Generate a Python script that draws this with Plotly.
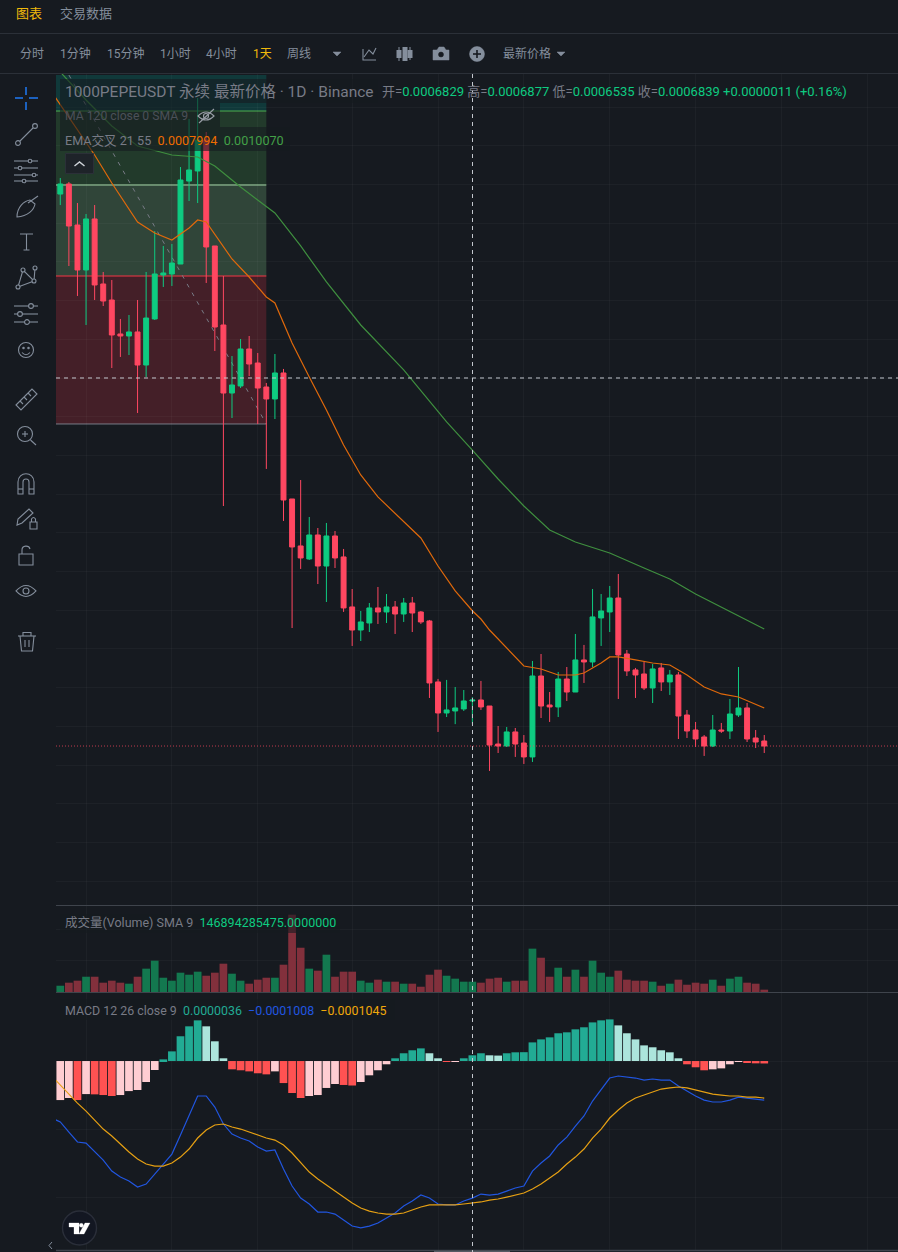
import plotly.graph_objects as go

W, H = 898, 1252
BG = "#161a20"
# prices in units of 1e-6
OPEN = [1337.8,1350.8,1297.8,1239.7,1305.6,1221.6,1200.9,1157.0,1154.4,1159.6,1116.9,1176.4,1233.2,1234.5,1247.4,1354.6,1367.6,1407.6,1270.7,1168.6,1080.7,1089.8,1137.6,1119.5,1088.5,1073.0,1106.6,943.8,883.1,866.3,897.3,857.2,896.0,868.9,804.3,774.5,783.6,803.0,797.8,804.3,795.2,809.4,797.8,786.2,707.4,667.3,669.9,672.5,682.9,684.1,676.3,627.2,624.6,642.8,628.5,610.5,715.1,677.6,675.1,711.2,694.4,735.8,733.2,790.1,797.8,815.9,743.5,722.9,717.7,699.6,725.5,707.4,716.4,664.7,645.3,636.3,624.6,645.3,644.0,664.7,673.8,635.0,631.1]
HIGH = [1358.5,1353.4,1326.2,1312.0,1323.6,1237.1,1226.7,1176.4,1181.5,1200.9,1237.1,1290.1,1270.7,1273.3,1372.7,1434.8,1461.9,1418.0,1270.7,1231.9,1128.5,1150.5,1154.4,1132.4,1093.7,1131.1,1111.8,943.8,968.3,920.5,906.3,912.8,902.4,879.2,827.5,799.1,809.4,830.1,821.0,812.0,815.9,817.2,799.1,787.5,711.3,710.0,700.9,697.0,687.7,708.7,676.3,650.5,649.2,647.9,638.8,734.5,743.5,694.4,720.3,726.7,769.4,755.2,827.5,821.0,831.4,846.9,748.7,725.5,733.2,730.6,731.9,722.9,720.3,671.2,655.7,638.8,664.7,654.4,685.4,726.7,680.2,645.3,638.8]
LOW = [1323.6,1244.8,1206.1,1168.6,1200.9,1193.1,1113.0,1127.3,1129.8,1054.9,1101.4,1175.1,1217.7,1219.0,1247.4,1328.8,1326.2,1222.9,1135.0,934.7,1048.4,1087.2,1102.7,1040.7,982.6,1047.1,915.4,777.1,853.4,865.0,833.9,810.7,854.6,797.9,753.9,760.3,771.9,782.3,783.6,769.4,784.9,771.9,782.3,686.7,642.8,662.1,652.9,669.9,653.5,671.2,592.4,615.6,623.3,610.5,601.4,604.0,660.8,655.7,662.1,682.8,694.4,706.1,726.4,753.9,771.9,685.4,715.1,686.7,697.0,680.2,695.7,690.6,633.7,635.0,623.3,611.8,623.3,641.5,633.7,662.1,629.8,622.0,615.6]
CLOSE = [1350.8,1296.5,1239.7,1305.6,1220.3,1199.6,1155.7,1154.4,1159.6,1116.9,1177.6,1234.5,1235.8,1248.7,1355.9,1368.9,1407.6,1269.4,1166.0,1080.7,1091.1,1137.6,1118.2,1087.2,1073.0,1106.6,942.5,881.8,867.6,897.3,857.2,896.0,867.6,803.0,774.5,784.9,803.0,797.8,804.3,795.2,809.4,796.5,784.9,706.1,667.3,671.2,673.8,682.8,683.9,675.1,625.9,624.6,642.8,627.2,610.5,715.1,676.3,675.1,711.2,694.4,735.8,733.2,791.4,799.1,815.9,742.2,721.6,716.4,699.6,724.2,707.4,716.4,663.4,644.0,633.7,624.6,645.3,644.0,666.0,673.8,633.7,629.8,624.6]
LAST_PRICE = 624.6

EMA21_X = [-1,2,4,6,9,11,13,15,16,17,18,20,22,24,25,27,29,31,33,35,37,39,41,42,44,46,48,49,50,52,54,56,58,59,60,61,62,63,64,65,67,69,71,73,75,77,79,81,82]
EMA21 = [1469.6,1420.5,1388.2,1352.1,1301.7,1287.5,1278.4,1293.9,1304.3,1301.7,1286.2,1253.9,1230.6,1204.8,1197.0,1145.3,1101.4,1058.8,1013.6,974.8,946.4,925.7,903.8,893.4,857.2,825.0,799.4,788.7,774.5,751.3,728.0,724.1,716.4,716.4,716.4,719.0,725.4,731.9,739.7,739.7,735.8,731.9,729.3,716.4,700.9,691.9,688.0,679.0,673.8]
EMA55_X = [0,3,6,9,13,16,18,21,25,28,31,35,40,45,48,51,54,57,60,64,68,71,74,77,80,82]
EMA55 = [1495.5,1459.3,1425.7,1399.9,1388.2,1385.7,1374.0,1346.9,1313.3,1270.7,1224.2,1168.6,1110.5,1043.3,1007.0,969.6,934.7,903.7,888.2,874.0,854.6,840.4,821.0,804.3,787.5,775.8]

FIB_TOP, FIB_A, FIB_B, FIB_C = 1491.6, 1445.1, 1349.5, 1231.9
FIB_BOTTOM = 1040.7

# volume in units of 1e9
VOLUME = [81,120,146,197,197,120,146,120,107,197,301,404,184,146,249,223,262,210,249,365,236,146,107,159,184,184,352,997,571,301,275,481,197,262,262,146,120,159,133,133,107,107,68,223,288,210,172,133,133,120,172,184,133,146,146,559,442,197,313,197,288,197,404,249,197,275,159,146,146,133,81,107,159,94,120,107,159,81,172,197,120,107,30]
# MACD in units of 1e-6
HIST = [-28.7,-27.2,-28.7,-24.3,-24.5,-25.0,-25.7,-25.0,-22.1,-21.3,-15.4,-6.6,1.2,7.1,18.2,25.5,29.9,25.5,14.5,2.0,-6.1,-6.8,-7.6,-9.0,-9.8,-7.6,-16.2,-23.5,-27.2,-25.7,-25.0,-19.8,-16.9,-17.6,-18.0,-15.4,-10.5,-6.8,-2.4,2.0,5.7,7.9,9.3,5.7,2.0,-0.7,-0.5,2.0,4.2,5.7,4.2,4.0,5.7,6.4,6.5,13.7,15.9,17.4,20.4,21.1,23.3,24.8,28.4,29.9,30.6,26.2,20.4,15.9,11.5,10.1,7.9,6.4,2.0,-2.4,-4.6,-6.8,-6.1,-5.4,-2.4,-0.5,-1.0,-1.7,-1.8]
MACD_X = list(range(-1, 83))
DIF = [-41.9,-44.8,-52.2,-59.5,-60.3,-66.9,-72.8,-80.9,-85.3,-88.2,-92.6,-90.4,-83.1,-76.4,-68.4,-54.4,-39.7,-25.7,-25.7,-33.8,-46.3,-53.7,-56.6,-58.8,-63.2,-66.2,-65.4,-79.4,-91.9,-100.7,-105.1,-111.0,-111.0,-112.5,-116.9,-121.3,-122.7,-121.3,-119.1,-115.4,-111.7,-106.6,-102.9,-98.5,-100.7,-105.1,-105.8,-105.8,-102.9,-100.8,-97.8,-98.5,-97.8,-95.6,-93.3,-91.9,-80.9,-75.0,-69.8,-61.7,-55.9,-47.8,-40.4,-29.4,-20.6,-12.5,-11.0,-11.8,-12.5,-14.0,-13.2,-14.0,-14.0,-18.4,-22.1,-25.7,-28.7,-30.1,-30.1,-28.7,-26.5,-27.2,-27.9,-28.7]
DEA = [-11.0,-17.6,-25.0,-30.9,-36.8,-43.4,-50.0,-55.1,-61.0,-66.9,-72.0,-75.7,-77.2,-77.2,-75.0,-70.6,-64.7,-56.6,-50.7,-47.0,-46.3,-48.5,-50.0,-52.2,-54.4,-56.6,-58.1,-61.7,-67.6,-75.0,-81.6,-86.7,-91.1,-95.6,-100.0,-104.4,-108.0,-110.3,-111.7,-112.5,-112.5,-111.7,-109.5,-107.3,-105.8,-105.8,-105.8,-105.8,-105.1,-104.5,-103.6,-102.2,-101.4,-100.0,-98.5,-97.0,-94.1,-90.4,-86.0,-81.6,-75.7,-70.6,-64.7,-56.6,-50.0,-41.9,-36.0,-30.9,-27.2,-25.0,-22.8,-20.6,-19.8,-19.1,-19.8,-21.3,-22.8,-24.3,-25.0,-25.7,-25.7,-26.5,-26.5,-27.2]

BARS = list(range(len(OPEN)))
MONTH_TICKS = [3,13,23,34,44,54,64,74,84,94]
CROSS_PRICE = 1588.5 - 1.292*378

GREEN, RED = "#0ecb81", "#ff4761"
GRID = "rgba(255,255,255,0.03)"
GREY = "#848e9c"
LEG = "#787b86"
XRANGE = [-0.5, 97.58]

def xp(x): return x/W
def yp(y): return 1-y/H

fig = go.Figure()
fig.add_trace(go.Candlestick(x=BARS, open=OPEN, high=HIGH, low=LOW, close=CLOSE,
    increasing=dict(line=dict(color=GREEN, width=1), fillcolor=GREEN),
    decreasing=dict(line=dict(color=RED, width=1), fillcolor=RED),
    whiskerwidth=0, hoverinfo="skip", showlegend=False, xaxis="x", yaxis="y"))
fig.add_trace(go.Scatter(x=EMA21_X, y=EMA21, mode="lines", line=dict(color="#e0690b", width=1.2), xaxis="x", yaxis="y", showlegend=False, hoverinfo="skip"))
fig.add_trace(go.Scatter(x=EMA55_X, y=EMA55, mode="lines", line=dict(color="#3f8f3f", width=1.2), xaxis="x", yaxis="y", showlegend=False, hoverinfo="skip"))

vol_col = ["#13784f" if c >= o else "#82303c" for o, c in zip(OPEN, CLOSE)]
fig.add_trace(go.Bar(x=BARS, y=VOLUME, width=0.9, marker=dict(color=vol_col, line=dict(width=0)), xaxis="x2", yaxis="y2", showlegend=False, hoverinfo="skip"))

hist_col = []
for i, v in enumerate(HIST):
    prev = HIST[i-1] if i else v
    if v >= 0:
        hist_col.append("#22ab94" if v > prev else "#ace5dc")
    else:
        hist_col.append("#ff5252" if v < prev else "#ffcdd2")
fig.add_trace(go.Bar(x=BARS, y=HIST, width=0.9, marker=dict(color=hist_col, line=dict(width=0)), xaxis="x3", yaxis="y3", showlegend=False, hoverinfo="skip"))
fig.add_trace(go.Scatter(x=MACD_X, y=DIF, mode="lines", line=dict(color="#2156e0", width=1.2), xaxis="x3", yaxis="y3", showlegend=False, hoverinfo="skip"))
fig.add_trace(go.Scatter(x=MACD_X, y=DEA, mode="lines", line=dict(color="#e6a013", width=1.2), xaxis="x3", yaxis="y3", showlegend=False, hoverinfo="skip"))

shapes = []
# drawing tool zones, in data space
def zone(y0, y1, color):
    shapes.append(dict(type="rect", xref="x", yref="y", x0=XRANGE[0], x1=24, y0=y0, y1=y1, fillcolor=color, line_width=0, layer="below"))
zone(FIB_A, FIB_TOP, "rgba(0,150,136,0.25)")
zone(FIB_B, FIB_A, "rgba(76,175,80,0.22)")
zone(FIB_C, FIB_B, "rgba(129,199,132,0.25)")
zone(FIB_BOTTOM, FIB_C, "rgba(242,54,69,0.21)")
for lv, c in [(FIB_A, "#4caf50"), (FIB_B, "#a5d6a7"), (FIB_C, "#f23645"), (FIB_BOTTOM, "#787b86")]:
    shapes.append(dict(type="line", xref="x", yref="y", x0=XRANGE[0], x1=24, y0=lv, y1=lv, line=dict(color=c, width=1), layer="below"))
shapes.append(dict(type="line", xref="x", yref="y", x0=1, x1=24, y0=FIB_TOP, y1=FIB_BOTTOM, line=dict(color="#787b86", width=1, dash="4px,6px"), layer="below"))
# last price
shapes.append(dict(type="line", xref="x domain", yref="y", x0=0, x1=1, y0=LAST_PRICE, y1=LAST_PRICE, opacity=0.75, line=dict(color="#f6465d", width=1, dash="1px,2px")))

def prect(x0, y0, x1, y1, fill, line=None, lw=0, layer="above"):
    shapes.append(dict(type="rect", xref="paper", yref="paper", x0=xp(x0), x1=xp(x1), y0=yp(y1), y1=yp(y0), fillcolor=fill,
                       line=dict(color=line or "rgba(0,0,0,0)", width=lw), layer=layer))
def pline(x0, y0, x1, y1, color=GREY, w=1.1, dash=None, layer="above"):
    ln = dict(color=color, width=w)
    if dash: ln["dash"] = dash
    shapes.append(dict(type="line", xref="paper", yref="paper", x0=xp(x0), x1=xp(x1), y0=yp(y0), y1=yp(y1), line=ln, layer=layer))
def pcirc(cx, cy, r, fill="rgba(0,0,0,0)", line=GREY, w=1.1):
    shapes.append(dict(type="circle", xref="paper", yref="paper", x0=xp(cx-r), x1=xp(cx+r), y0=yp(cy+r), y1=yp(cy-r), fillcolor=fill, line=dict(color=line, width=w), layer="above"))
def ppath(d, fill="rgba(0,0,0,0)", line=GREY, w=1.1):
    out, isx = [], True
    for t in d.split():
        if t.isalpha():
            out.append(t); isx = True
        else:
            out.append(f"{xp(float(t)):.5f}" if isx else f"{yp(float(t)):.5f}")
            isx = not isx
    shapes.append(dict(type="path", xref="paper", yref="paper", path=" ".join(out), fillcolor=fill, line=dict(color=line, width=w), layer="above"))

# legend backdrops
OV = "rgba(22,26,32,0.6)"
prect(60, 79, 378, 103, OV)
prect(60, 103, 220, 127, OV)
prect(60, 127, 290, 151, OV)
prect(60, 914, 340, 933, OV)
prect(60, 999, 395, 1020, OV)

# separators
pline(0, 33.5, W, 33.5, "#2b3038", 1)
pline(0, 73.5, W, 73.5, "#2b3038", 1)
pline(56, 905.5, W, 905.5, "#3f444c", 1)
pline(56, 992.5, W, 992.5, "#3f444c", 1)
pline(56, 1250.5, W, 1250.5, "#3f444c", 1.4)
pline(434, 1251.5, 510, 1251.5, "#555b64", 1.4)

# crosshair
CH = "#c3c7ce"
pline(472.5, 74, 472.5, H, CH, 1, "4px,4px")
shapes.append(dict(type="line", xref="x domain", yref="y", x0=0, x1=1, y0=CROSS_PRICE, y1=CROSS_PRICE, line=dict(color=CH, width=1, dash="4px,4px")))

# collapse button
prect(65.5, 153.5, 93.5, 173.5, "#1e2329", "#2b3038", 1)
ppath("M 74.5 166 L 79.5 162 L 84.5 166", line="#d0d4da", w=1.4)

# eye-off icon
ppath("M 198 116 Q 206 108 214 116 Q 206 124 198 116 Z", line="#9a9fa8", w=1.1)
pcirc(206, 116, 2.5, line="#9a9fa8", w=1.1)
pline(199, 123, 214, 109, "#9a9fa8", 1.1)

# logo
pcirc(79.5, 1228, 17, fill="#131722", line="#2a2e39", w=1.4)
ppath("M 69 1223 L 79 1223 L 79 1234 L 74 1234 L 74 1227 L 69 1227 Z", fill="#ffffff", line="#ffffff", w=0.3)
pcirc(81.3, 1225.3, 2, fill="#ffffff", line="#ffffff", w=0.3)
ppath("M 85 1223 L 90 1223 L 84 1234 L 79 1234 Z", fill="#ffffff", line="#ffffff", w=0.3)
ppath("M 52 1242 L 49 1245.5 L 52 1249", line="#848e9c", w=1)

# left rail icons
BL = "#1e74e8"
for a in [(15,98,23,98),(29,98,38,98),(26,87,26,95),(26,102,26,110)]:
    pline(*a, BL, 1.6)
pline(20,141,33,128); pcirc(18,143,2.4); pcirc(35,126,2.4)
for yy, xa in [(161,30),(168,20),(175,34),(181,24)]:
    pline(14,yy,38,yy); pcirc(xa,yy,1.8,fill=BG)
ppath("M 17 217 C 17 207 24 201 30 200 L 35 204 C 34 210 28 216 17 217 Z")
ppath("M 28 203 L 38 196")
ppath("M 20 234 L 33 234 M 26.5 234 L 26.5 250 M 23.5 250 L 29.5 250")
ppath("M 18 287 L 23 270 L 34 281 L 35 268 M 18 287 L 34 281")
for c in [(18,287),(23,270),(34,281),(35,268)]:
    pcirc(*c,2,fill=BG)
for yy in [306,314,322]:
    pline(14,yy,38,yy)
for c in [(31,306),(20,314),(27,322)]:
    pcirc(*c,2.4,fill=BG)
pcirc(26,350,7.5); pcirc(23.5,348,0.7,fill=GREY); pcirc(28.5,348,0.7,fill=GREY)
ppath("M 22 352.5 Q 26 357 30 352.5")
ppath("M 16 405 L 32 389 L 37 394 L 21 410 Z")
for a in [(20,401,23,404),(24,397,27,400),(28,393,31,396)]:
    pline(*a)
pcirc(25,434,7.5); pline(30.5,440,36,445); pline(22,434,28,434); pline(25,431,25,437)
ppath("M 18 494 L 18 482 C 18 471 34 471 34 482 L 34 494 L 29 494 L 29 482 C 29 478 23 478 23 482 L 23 494 Z")
pline(18,489,23,489); pline(29,489,34,489)
ppath("M 17 525 L 18 519 L 29 509 L 33 513 L 22 523 Z")
prect(30,522,37,529,"rgba(0,0,0,0)",GREY,1.1)
ppath("M 31.5 522 L 31.5 519 Q 33.5 516 35.5 519 L 35.5 522")
prect(19,554,33,565,"rgba(0,0,0,0)",GREY,1.1)
ppath("M 22 554 L 22 550 C 22 545 29 545 30 549")
ppath("M 16 591 Q 26 580 36 591 Q 26 602 16 591 Z"); pcirc(26,591,3)
ppath("M 20 636 L 21.5 651 L 32.5 651 L 34 636")
pline(18,636,36,636); ppath("M 23 636 L 23 632.5 L 31 632.5 L 31 636")
pline(25,640,25,647); pline(29,640,29,647)

# top toolbar icons
ppath("M 363 49 L 363 60 L 376 60")
ppath("M 364 57 L 369 50 L 373 54 L 376 48")
for cx, t0, b0, t1, b1 in [(399,50,58,47,61),(405,47,61,47,61),(410,50,58,47,60)]:
    prect(cx-2.5, t0, cx+2.5, b0, "#848e9c", layer="above")
    pline(cx, t1, cx, b1, "#848e9c", 1)
ppath("M 433 50 L 437 50 L 439 47 L 444 47 L 446 50 L 449 50 L 449 60 L 433 60 Z", fill=GREY, line=GREY, w=0.5)
pcirc(441, 54.5, 2.5, fill=BG, line=BG, w=0.5)
pcirc(477, 54, 7.5, fill=GREY, line=GREY, w=0.5)
pline(473, 54, 481, 54, BG, 1.6); pline(477, 50, 477, 58, BG, 1.6)
ppath("M 333 52 L 341 52 L 337 56 Z", fill=GREY, line=GREY, w=0.5)
ppath("M 557 52 L 565 52 L 561 56 Z", fill=GREY, line=GREY, w=0.5)

# texts
FONT = "Roboto, 'Noto Sans CJK SC', sans-serif"
ann = []
def T(x, y, text, size=12, color=GREY, anchor="left"):
    ann.append(dict(xref="paper", yref="paper", x=xp(x), y=yp(y), text=text, showarrow=False, xanchor=anchor, yanchor="middle",
                    font=dict(family=FONT, size=size, color=color), borderpad=0, borderwidth=0, align="left"))
def sp(t, c): return f'<span style="color:{c}">{t}</span>'

T(16, 14, "图表", 13, "#f0b90b")
T(60, 14, "交易数据", 13, GREY)
for x, s, c in [(20,"分时",GREY),(60,"1分钟",GREY),(107,"15分钟",GREY),(160,"1小时",GREY),(206,"4小时",GREY),(253,"1天","#f0b90b"),(287,"周线",GREY),(503,"最新价格",GREY)]:
    T(x, 54, s, 12, c)

T(65, 92, "1000PEPEUSDT 永续 最新价格 · 1D · Binance", 15.5, LEG)
G2 = "#0ecb81"
T(382, 92, "开="+sp("0.0006829",G2)+" 高="+sp("0.0006877",G2)+" 低="+sp("0.0006535",G2)+" 收="+sp("0.0006839",G2)+" "+sp("+0.0000011 (+0.16%)",G2), 13, LEG)
T(65, 116, "MA 120 close 0 SMA 9", 12.2, "#4b5058")
T(65, 140, "EMA交叉 21 55  "+sp("0.0007994","#ef6c00")+"  "+sp("0.0010070","#43a047"), 12.6, LEG)
T(65, 923, "成交量(Volume) SMA 9  "+sp("146894285475.0000000",G2), 12.5, LEG)
T(65, 1010, "MACD 12 26 close 9  "+sp("0.0000036","#22ab94")+"  "+sp("−0.0001008","#2156e0")+"  "+sp("−0.0001045","#f0a80a"), 12.4, LEG)

dom = [56/W, 1]
xa = dict(domain=dom, range=XRANGE, showticklabels=False, ticks="", tickvals=MONTH_TICKS, showgrid=True, gridcolor=GRID, gridwidth=1, zeroline=False, showline=False, rangeslider=dict(visible=False), fixedrange=True)
ya = dict(showticklabels=False, ticks="", showgrid=True, gridcolor=GRID, gridwidth=1, zeroline=False, showline=False, fixedrange=True)

fig.update_layout(
    width=W, height=H, autosize=False, margin=dict(l=0, r=0, t=0, b=0, pad=0),
    paper_bgcolor=BG, plot_bgcolor=BG, showlegend=False, boxgap=0.18, barmode="overlay",
    shapes=shapes, annotations=ann, hovermode=False, font=dict(family=FONT),
    xaxis=dict(xa, anchor="y"),
    xaxis2=dict(xa, anchor="y2"),
    xaxis3=dict(xa, anchor="y3"),
    yaxis=dict(ya, domain=[yp(905), yp(74)], range=[419.2, 1492.9], tick0=0, dtick=50, anchor="x"),
    yaxis2=dict(ya, domain=[yp(992), yp(906)], range=[0, 1109], tickvals=[400, 800], anchor="x2"),
    yaxis3=dict(ya, domain=[yp(1250), yp(993)], range=[-138.9, 50.0], tickvals=[0, -50, -100], anchor="x3"),
)
fig.write_html("out.html", config={"displayModeBar": False}, post_script="document.body.style.margin='0';document.body.style.background='#161a20';")
